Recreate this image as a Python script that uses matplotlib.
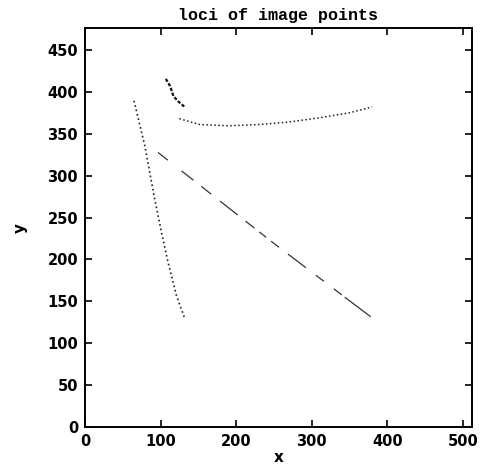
import matplotlib
matplotlib.use("Agg")
import matplotlib.pyplot as plt

# loci (data units)
steep_x = [64.9, 79.2, 91.4, 100.3, 109.9, 121.0, 131.9]
steep_y = [389.3, 335.7, 276.2, 236.5, 196.8, 157.0, 129.8]

diag_x = [96.7, 250.7, 379.5]
diag_y = [327.7, 218.7, 130.6]

hook_x = [107, 112, 115, 117, 123, 132]
hook_y = [415.5, 408, 401, 395, 389, 382]

arc_x = [125, 152, 191, 231, 270, 310, 350, 380]
arc_y = [368, 361, 359.5, 361, 364, 369, 375, 382]

xticks = [0, 100, 200, 300, 400, 500]
yticks = [0, 50, 100, 150, 200, 250, 300, 350, 400, 450]

fig = plt.figure(figsize=(4.8, 4.7), dpi=100)
ax = fig.add_axes([0.177, 0.0915, 0.806, 0.8485])

ax.plot(steep_x, steep_y, color='#222222', lw=1.2, ls=(0, (1, 1.7)))
# broken diagonal: irregular dashes with gaps
ax.plot(diag_x, diag_y, color='#333333', lw=0.9,
        ls=(0, (10, 14, 12, 8, 10, 9, 18, 8, 9, 5, 7, 5, 8, 9, 18, 10, 8, 10, 8, 3, 26, 4)))
ax.plot(hook_x, hook_y, color='#111111', lw=1.6, ls=(0, (1.5, 0.8)))
ax.plot(arc_x, arc_y, color='#222222', lw=1.1, ls=(0, (1, 1.6)))

ax.set_xlim(0, 512)
ax.set_ylim(0, 476)
ax.set_xticks(xticks)
ax.set_yticks(yticks)
ax.tick_params(direction='in', length=5, width=1.2, top=True, right=True,
               labelsize=10.5, pad=5)
for lab in ax.get_xticklabels() + ax.get_yticklabels():
    lab.set_fontweight('bold')
for s in ax.spines.values():
    s.set_linewidth(1.4)

ax.set_title('loci of image points', family='Liberation Mono',
             fontsize=12, fontweight='bold', pad=6)
ax.set_xlabel('x', fontsize=11, fontweight='bold', labelpad=1)
ax.set_ylabel('y', fontsize=11, fontweight='bold', labelpad=14)

fig.savefig('out.png', dpi=100)
